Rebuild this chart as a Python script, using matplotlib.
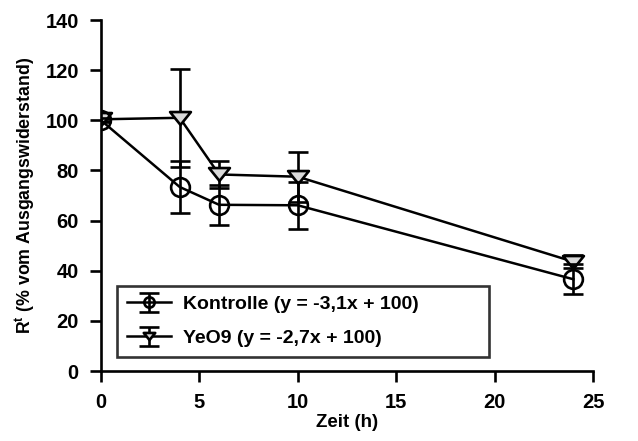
import matplotlib
matplotlib.use("Agg")
import matplotlib.pyplot as plt
from matplotlib.path import Path

plt.rcParams['font.family'] = ['Liberation Sans', 'DejaVu Sans']
plt.rcParams['font.weight'] = 'bold'
plt.rcParams['mathtext.fontset'] = 'custom'
plt.rcParams['mathtext.rm'] = 'Liberation Sans:bold'
plt.rcParams['mathtext.bf'] = 'Liberation Sans:bold'

zeit = [0, 4, 6, 10, 24]
kontrolle = [100, 73.4, 66.3, 66.1, 36.6]
kontrolle_err = [0.8, 10.5, 7.9, 9.3, 6.0]
yeo9 = [100.4, 101, 78.4, 77.5, 43.6]
yeo9_err = [0.8, 19.5, 5.4, 10.0, 2.7]

xticks = [0, 5, 10, 15, 20, 25]
yticks = [0, 20, 40, 60, 80, 100, 120, 140]

# flat downward triangle like the original
tri = Path([(-1, 0.62), (1, 0.62), (0, -0.62), (-1, 0.62)],
           [Path.MOVETO, Path.LINETO, Path.LINETO, Path.CLOSEPOLY])

fig = plt.figure(figsize=(6.38, 4.41), dpi=100)
ax = fig.add_axes([0.1583, 0.1587, 0.7712, 0.7959])

ax.errorbar(zeit, kontrolle, yerr=kontrolle_err, color='black', lw=1.8,
            marker='o', ms=13.5, mfc='none', mec='black', mew=1.9,
            capsize=7, capthick=1.9, elinewidth=1.9,
            label='Kontrolle (y = -3,1x + 100)', zorder=3)
ax.errorbar(zeit, yeo9, yerr=yeo9_err, color='black', lw=1.8,
            marker=tri, ms=15, mfc='#d9d9d9', mec='black', mew=1.9,
            capsize=7, capthick=1.9, elinewidth=1.9,
            label='YeO9 (y = -2,7x + 100)', zorder=2)

ax.set_xlim(0, 25)
ax.set_ylim(0, 140)
ax.set_xticks(xticks)
ax.set_yticks(yticks)
ax.spines['top'].set_visible(False)
ax.spines['right'].set_visible(False)
for s in ['left', 'bottom']:
    ax.spines[s].set_linewidth(1.9)
ax.tick_params(direction='out', length=8, width=1.9, labelsize=14.5, pad=8)

ax.set_xlabel('Zeit (h)', fontsize=13.5, fontweight='bold', labelpad=1)
ax.set_ylabel(r'R$^{\mathregular{t}}$ (% vom Ausgangswiderstand)', fontsize=12.8,
              fontweight='bold', labelpad=6)

leg = ax.legend(loc='lower left', bbox_to_anchor=(0.0325, 0.04, 0.756, 0.2),
                mode='expand', fontsize=14,
                frameon=True, fancybox=False, edgecolor='black',
                markerscale=0.55, handlelength=2.3, handletextpad=0.6,
                borderpad=0.5, labelspacing=0.85, borderaxespad=0)
leg.get_frame().set_linewidth(1.9)
for t in leg.get_texts():
    t.set_fontweight('bold')

for lab in ax.get_xticklabels() + ax.get_yticklabels():
    lab.set_fontweight('bold')

fig.savefig('out.png', dpi=100)
